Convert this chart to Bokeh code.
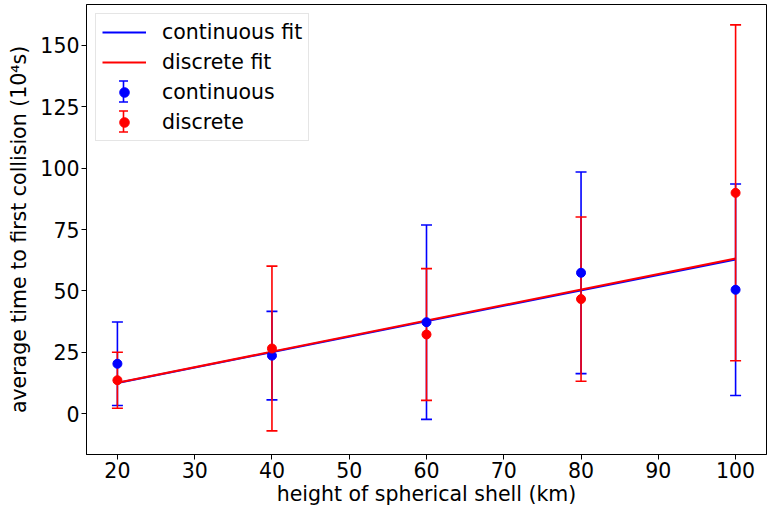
from bokeh.plotting import figure
from bokeh.models import (Range1d, Legend, LegendItem, FixedTicker, ColumnDataSource,
                          Arrow, TeeHead)
from bokeh.embed import file_html
from bokeh.resources import INLINE

# data
heights = [20, 40, 60, 80, 100]
cont_mean = [20.4, 23.7, 37.3, 57.4, 50.5]
cont_err = [17.0, 18.0, 39.5, 41.0, 43.0]
disc_mean = [13.7, 26.6, 32.3, 46.7, 89.9]
disc_err = [11.4, 33.5, 26.8, 33.4, 68.3]
fit_x = [20, 100]
cont_fit = [12.6, 62.8]
disc_fit = [12.7, 63.2]
x_ticks = [20, 30, 40, 50, 60, 70, 80, 90, 100]
y_ticks = [0, 25, 50, 75, 100, 125, 150]

BLUE = "#0000ff"
RED = "#ff0000"
FONT = "DejaVu Sans"
FS = "20.5px"

H = 509
TOP = 4
BOTTOM = 55
p = figure(width=767, height=H, output_backend="svg", toolbar_location=None,
           x_range=Range1d(16, 104), y_range=Range1d(-16.5, 166.5),
           min_border_left=86, min_border_right=1, min_border_top=TOP, min_border_bottom=BOTTOM)
p.xgrid.visible = False
p.ygrid.visible = False
p.outline_line_color = "black"
p.outline_line_width = 1

for ax in (p.xaxis[0], p.yaxis[0]):
    ax.axis_line_color = "black"
    ax.major_tick_line_color = "black"
    ax.minor_tick_line_color = None
    ax.major_tick_out = 5
    ax.major_tick_in = 0
    ax.major_label_text_font = FONT
    ax.major_label_text_font_size = FS
    ax.major_label_text_color = "black"
    ax.major_label_standoff = 2
    ax.axis_label_text_font = FONT
    ax.axis_label_text_font_size = FS
    ax.axis_label_text_font_style = "normal"
    ax.axis_label_text_color = "black"

p.xaxis.ticker = FixedTicker(ticks=x_ticks)
p.yaxis.ticker = FixedTicker(ticks=y_ticks)
p.xaxis.axis_label = "height of spherical shell (km)"
p.yaxis.axis_label = "average time to first collision (10\u2074s)"
p.xaxis.axis_label_standoff = 1
p.yaxis.axis_label_standoff = 6

r_cf = p.line(fit_x, cont_fit, line_color=BLUE, line_width=2)
r_df = p.line(fit_x, disc_fit, line_color=RED, line_width=2)

def errbar(mean, err, color):
    lo = [m - e for m, e in zip(mean, err)]
    hi = [m + e for m, e in zip(mean, err)]
    src = ColumnDataSource(dict(x=heights, y=mean, lo=lo, hi=hi))
    p.segment(x0="x", y0="lo", x1="x", y1="hi", source=src, line_color=color, line_width=1.6)
    p.scatter(x="x", y="lo", source=src, marker="dash", size=11, line_color=color, line_width=1.6)
    p.scatter(x="x", y="hi", source=src, marker="dash", size=11, line_color=color, line_width=1.6)
    return src

src_c = errbar(cont_mean, cont_err, BLUE)
src_d = errbar(disc_mean, disc_err, RED)
dot_c = p.scatter(x="x", y="y", source=src_c, marker="circle", size=9, fill_color=BLUE, line_color=BLUE)
dot_d = p.scatter(x="x", y="y", source=src_d, marker="circle", size=9, fill_color=RED, line_color=RED)

legend = Legend(items=[
    LegendItem(label="continuous fit", renderers=[r_cf]),
    LegendItem(label="discrete fit", renderers=[r_df]),
    LegendItem(label="continuous", renderers=[dot_c]),
    LegendItem(label="discrete", renderers=[dot_d]),
], location="top_left")
legend.label_text_font = FONT
legend.label_text_font_size = FS
legend.label_text_color = "black"
legend.border_line_color = "#cccccc"
legend.border_line_width = 1
legend.background_fill_alpha = 0.0
legend.margin = 9
legend.padding = 6
legend.spacing = 6
legend.glyph_width = 44
legend.glyph_height = 24
legend.label_height = 24
legend.label_standoff = 16
p.add_layout(legend)

# error-bar symbols for the legend rows (screen units: from frame left / frame bottom)
frame_h = H - TOP - BOTTOM
gx = legend.margin + legend.padding + legend.glyph_width / 2
row = legend.label_height + legend.spacing
for k, color in ((2, BLUE), (3, RED)):
    cy = frame_h - (legend.margin + legend.padding + legend.label_height / 2 + k * row)
    p.add_layout(Arrow(x_start=gx, y_start=cy - 10.5, x_end=gx, y_end=cy + 10.5,
                       start_units="screen", end_units="screen", level="overlay",
                       line_color=color, line_width=1.6,
                       start=TeeHead(size=9, line_color=color, line_width=1.6),
                       end=TeeHead(size=9, line_color=color, line_width=1.6)))

open("out.html", "w").write(file_html(p, INLINE))
